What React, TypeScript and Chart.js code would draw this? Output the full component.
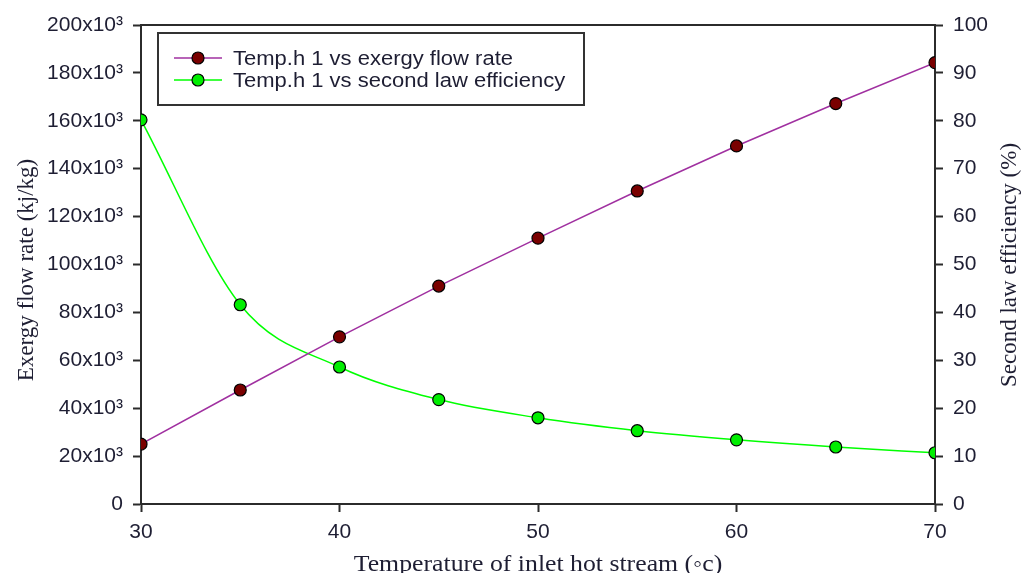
import React, { useEffect, useRef } from "react";
import { Chart, registerables } from "chart.js";

Chart.register(...registerables);

const temperatures = [30, 35, 40, 45, 50, 55, 60, 65, 70];
const exergyFlowRate = [25000, 47600, 69800, 91000, 111000, 130700, 149500, 167200, 184300];
const secondLawEfficiency = [80.2, 41.6, 28.6, 21.8, 18.0, 15.3, 13.4, 11.9, 10.7];

const legendLabels = ["Temp.h 1 vs exergy flow rate", "Temp.h 1 vs second law efficiency"];
const xTitle = "Temperature of inlet hot stream (◦c)";
const yLeftTitle = "Exergy flow rate (kj/kg)";
const yRightTitle = "Second law efficiency (%)";

const AXIS = "#2b2b2b";
const TEXT = "#1e1e33";
const TICK_FONT = { family: "Arial, 'Liberation Sans', sans-serif", size: 21 };

const decorPlugin = {
  id: "decor",
  afterDraw(chart: any) {
    const ctx = chart.ctx;
    const a = chart.chartArea;
    ctx.save();
    // top frame line
    ctx.strokeStyle = AXIS;
    ctx.lineWidth = 2;
    ctx.beginPath();
    ctx.moveTo(a.left - 1, a.top);
    ctx.lineTo(a.right + 1, a.top);
    ctx.stroke();

    // legend
    const bx = 158, by = 33, bw = 426, bh = 72;
    ctx.fillStyle = "#ffffff";
    ctx.fillRect(bx, by, bw, bh);
    ctx.strokeStyle = "#333";
    ctx.lineWidth = 2;
    ctx.strokeRect(bx, by, bw, bh);
    const rows = [
      { y: 58, line: "#a030a0", fill: "#7a0000", label: legendLabels[0] },
      { y: 80, line: "#00ff00", fill: "#00ee00", label: legendLabels[1] },
    ];
    ctx.font = "20px Arial, 'Liberation Sans', sans-serif";
    ctx.textBaseline = "middle";
    ctx.textAlign = "left";
    for (const r of rows) {
      ctx.strokeStyle = r.line;
      ctx.lineWidth = 1.5;
      ctx.beginPath();
      ctx.moveTo(174, r.y);
      ctx.lineTo(222, r.y);
      ctx.stroke();
      ctx.beginPath();
      ctx.arc(198, r.y, 6, 0, Math.PI * 2);
      ctx.fillStyle = r.fill;
      ctx.fill();
      ctx.strokeStyle = "#000";
      ctx.lineWidth = 1.2;
      ctx.stroke();
      ctx.fillStyle = TEXT;
      ctx.save();
      ctx.translate(233, r.y + 1);
      ctx.scale(1.1, 1);
      ctx.fillText(r.label, 0, 0);
      ctx.restore();
    }

    // axis titles
    ctx.fillStyle = TEXT;
    ctx.textAlign = "center";
    ctx.font = "23px 'Times New Roman', 'Liberation Serif', serif";
    ctx.save();
    ctx.translate((a.left + a.right) / 2, 571);
    ctx.scale(1.12, 1);
    ctx.textBaseline = "alphabetic";
    ctx.fillText(xTitle, 0, 0);
    ctx.restore();

    ctx.textBaseline = "middle";
    ctx.save();
    ctx.translate(27, 270);
    ctx.rotate(-Math.PI / 2);
    ctx.fillText(yLeftTitle, 0, 0);
    ctx.restore();

    ctx.save();
    ctx.translate(1010, 265);
    ctx.rotate(-Math.PI / 2);
    ctx.fillText(yRightTitle, 0, 0);
    ctx.restore();
    ctx.restore();
  },
};

export default function App() {
  const ref = useRef<HTMLCanvasElement | null>(null);
  useEffect(() => {
    document.body.style.margin = "0";
    const canvas = ref.current;
    if (!canvas) return;
    const chart = new Chart(canvas, {
      type: "line",
      data: {
        datasets: [
          {
            label: legendLabels[0],
            data: temperatures.map((t, i) => ({ x: t, y: exergyFlowRate[i] })),
            yAxisID: "y",
            borderColor: "#a030a0",
            borderWidth: 1.5,
            pointRadius: 6,
            pointBackgroundColor: "#7a0000",
            pointBorderColor: "#000",
            pointBorderWidth: 1.2,
            tension: 0,
          },
          {
            label: legendLabels[1],
            data: temperatures.map((t, i) => ({ x: t, y: secondLawEfficiency[i] })),
            yAxisID: "y1",
            borderColor: "#00ff00",
            borderWidth: 1.5,
            pointRadius: 6,
            pointBackgroundColor: "#00ee00",
            pointBorderColor: "#000",
            pointBorderWidth: 1.2,
            cubicInterpolationMode: "monotone",
          },
        ],
      },
      options: {
        animation: false,
        responsive: false,
        maintainAspectRatio: false,
        layout: { padding: { top: 25, left: 0, right: 0, bottom: 0 } },
        plugins: { legend: { display: false }, tooltip: { enabled: false } },
        scales: {
          x: {
            type: "linear",
            min: 30,
            max: 70,
            ticks: { stepSize: 10, color: TEXT, font: TICK_FONT, padding: 8, maxRotation: 0 },
            grid: { drawOnChartArea: false, tickLength: 8, tickColor: AXIS, tickWidth: 2 },
            border: { color: AXIS, width: 2 },
            afterFit: (s: any) => { s.height = 69; },
          },
          y: {
            position: "left",
            min: 0,
            max: 200000,
            ticks: {
              stepSize: 20000,
              color: TEXT,
              font: TICK_FONT,
              padding: 10,
              callback: (v: any) => (v === 0 ? "0" : `${v / 1000}x10³`),
            },
            grid: { drawOnChartArea: false, tickLength: 8, tickColor: AXIS, tickWidth: 2 },
            border: { color: AXIS, width: 2 },
            afterFit: (s: any) => { s.width = 141; },
          },
          y1: {
            position: "right",
            min: 0,
            max: 100,
            ticks: { stepSize: 10, color: TEXT, font: TICK_FONT, padding: 10 },
            grid: { drawOnChartArea: false, tickLength: 8, tickColor: AXIS, tickWidth: 2 },
            border: { color: AXIS, width: 2 },
            afterFit: (s: any) => { s.width = 87; },
          },
        },
      },
      plugins: [decorPlugin],
    } as any);
    return () => chart.destroy();
  }, []);
  return (
    <div style={{ position: "absolute", left: 0, top: 0, width: 1022, height: 573, background: "#fff" }}>
      <canvas ref={ref} width={1022} height={573} style={{ width: 1022, height: 573 }} />
    </div>
  );
}
